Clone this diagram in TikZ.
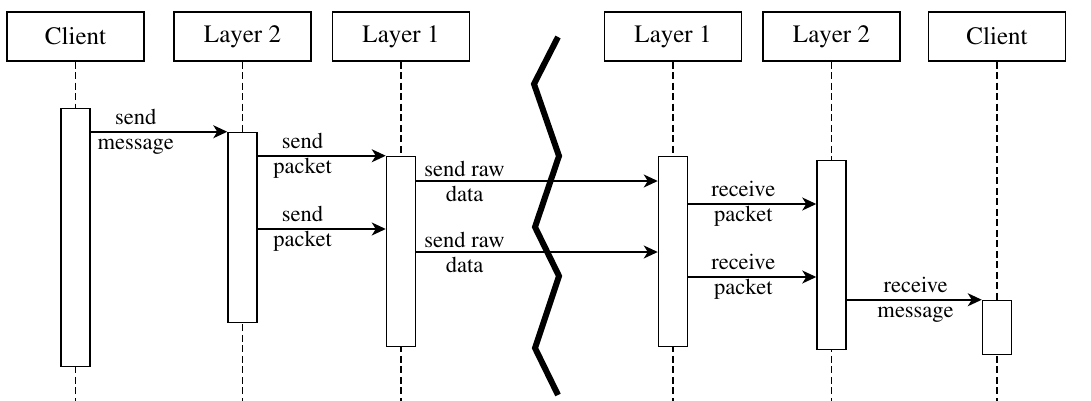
\documentclass[tikz,border=0pt]{standalone}
\usepackage[T1]{fontenc}
\usepackage{mathptmx}
\usetikzlibrary{arrows.meta, positioning}

\begin{document}
\begin{tikzpicture}[x=1pt, y=-1pt, line width=1.5pt,
                    main node/.style= {rectangle,
                      draw,
                      fill=white,
                      minimum width=137pt,
                      minimum height=49pt,
                      inner sep=0pt,
                      font=\rmfamily\fontsize{25}{30}\selectfont},
                    bar/.style={rectangle, draw, fill=white,
                      minimum width=29pt, inner sep=0pt},
                    life/.style={dash pattern=on 7pt off 3.5pt, line width=1.4pt},
                    msg/.style={-{Stealth[length=14pt, width=13pt, inset=4pt]}},
                    lbl/.style={align=center, inner sep=0pt,
                      font=\rmfamily\fontsize{22.5}{25}\selectfont}]

  \useasboundingbox (0,0) rectangle (1091,401);

  \node[main node] (1) at (75.5,36.5) {Client};
  \node[main node] (2) at (242.5,36.5) {Layer 2};
  \node[main node] (3) at (401,36.5) {Layer 1};
  \node[main node] (4) at (673,36.5) {Layer 1};
  \node[main node] (5) at (831.5,36.5) {Layer 2};
  \node[main node] (6) at (997,36.5) {Client};

  % lifelines
  \foreach \n in {1,...,6}
    \draw[life] (\n.south) -- (\n.south |- 0,401);

  % activations
  \node[bar, minimum height=258pt, below=46pt of 1] (b1) {};
  \node[bar, minimum height=190pt, below=70pt of 2] (b2) {};
  \node[bar, minimum height=190pt, below=94pt of 3] (b3) {};
  \node[bar, minimum height=190pt, below=94pt of 4] (b4) {};
  \node[bar, minimum height=189pt, below=98pt of 5] (b5) {};
  \node[bar, minimum height=54pt, below=238pt of 6] (b6) {};

  \path[msg]
    (b1.east |- b2.north) edge node[lbl, pos=.33] {send\\message} (b2.north west)
    (b2.east |- b3.north) edge node[lbl, pos=.35] {send\\packet} (b3.north west)
    (b3.east |- 0,181) edge node[lbl, pos=.2] {send raw\\data} (b4.west |- 0,181)
    (b4.east |- 0,204) edge node[lbl, pos=.43] {receive\\packet} (b5.west |- 0,204)
    (b2.east |- 0,229) edge node[lbl, pos=.35] {send\\packet} (b3.west |- 0,229)
    (b3.east |- 0,252) edge node[lbl, pos=.2] {send raw\\data} (b4.west |- 0,252)
    (b4.east |- 0,277) edge node[lbl, pos=.43] {receive\\packet} (b5.west |- 0,277)
    (b5.east |- b6.north) edge node[lbl, pos=.51] {receive\\message} (b6.north west);

  % break
  \draw[line width=6pt] (558,37) -- (534,84) -- (559,156) -- (535,227)
    -- (559,276) -- (535,348) -- (558,395);
\end{tikzpicture}
\end{document}
